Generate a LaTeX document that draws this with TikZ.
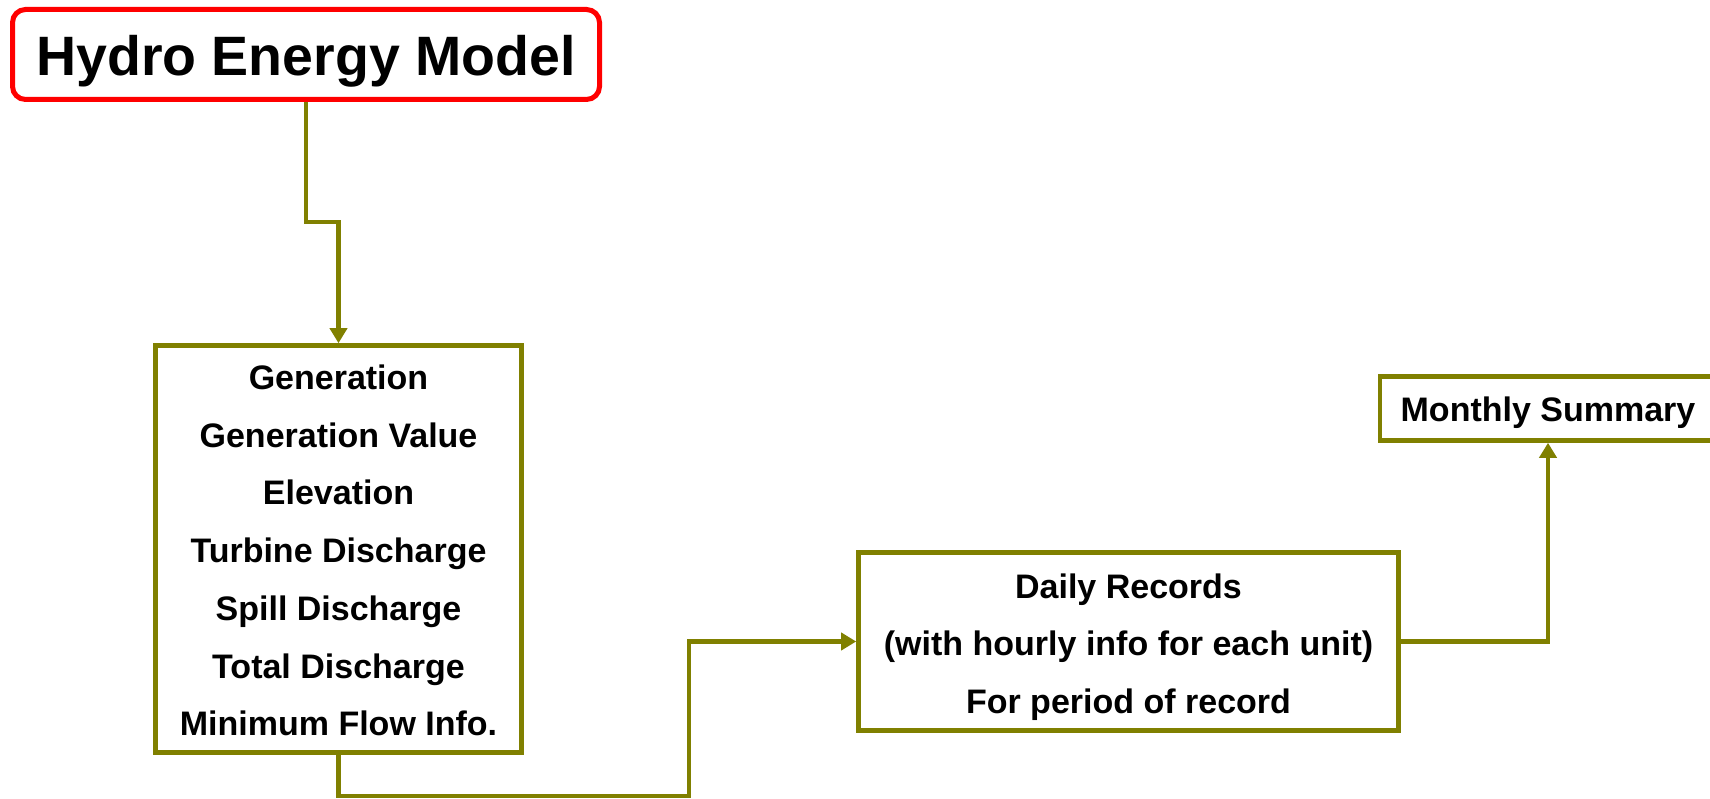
\documentclass[tikz,border=0pt]{standalone}
\usepackage{fontspec}
\setmainfont{Liberation Sans}
\usetikzlibrary{arrows.meta}
\definecolor{olivebox}{HTML}{808000}
\definecolor{redbox}{HTML}{FF0000}
\begin{document}
\begin{tikzpicture}[x=1pt,y=-1pt,
  box/.style={draw=olivebox, line width=4.6pt, fill=white, inner sep=0pt},
  boxtext/.style={inner sep=0pt, align=center, font=\fontsize{34}{57.7}\selectfont\bfseries},
  titlebox/.style={draw=redbox, line width=5pt, rounded corners=13pt, fill=white, inner sep=0pt},
  titletext/.style={inner sep=0pt, font=\fontsize{55.5}{60}\selectfont\bfseries},
  conn/.style={draw=olivebox, line width=4.3pt, -{Triangle[length=15pt,width=17pt]}}]
\useasboundingbox (0,0) rectangle (1710,799);
\fill[white] (0,0) rectangle (1710,799);

\node[titlebox, minimum width=587pt, minimum height=90pt] (title) at (306,54.5) {};
\node[titletext] (titletxt) at ([yshift=-6.5pt]title.center) {Hydro Energy Model};

\node[box, minimum width=366pt, minimum height=407pt] (gen) at (338.5,549) {};
\node[boxtext] (gentxt) at ([yshift=-1.5pt]gen.center)
  {Generation\\Generation Value\\Elevation\\Turbine Discharge\\Spill Discharge\\Total Discharge\\Minimum Flow Info.};

\node[box, minimum width=540pt, minimum height=178pt] (daily) at (1128.5,641.5) {};
\node[boxtext] (dailytxt) at ([yshift=-5.5pt]daily.center)
  {Daily Records\\(with hourly info for each unit)\\For period of record};

\node[box, minimum width=336pt, minimum height=64pt] (monthly) at (1548,408.5) {};
\node[boxtext] (monthlytxt) at ([yshift=-4.4pt]monthly.center) {Monthly Summary};

\coordinate (b1) at (689,796);
\draw[conn] (title.south) -- (title.south |- 0,222) -- (gen.north |- 0,222) -- (gen.north);
\draw[conn] (gen.south) -- (gen.south |- b1) -- (b1) -- (b1 |- daily.west) -- (daily.west);
\draw[conn] (daily.east) -| (monthly.south);
\end{tikzpicture}
\end{document}
